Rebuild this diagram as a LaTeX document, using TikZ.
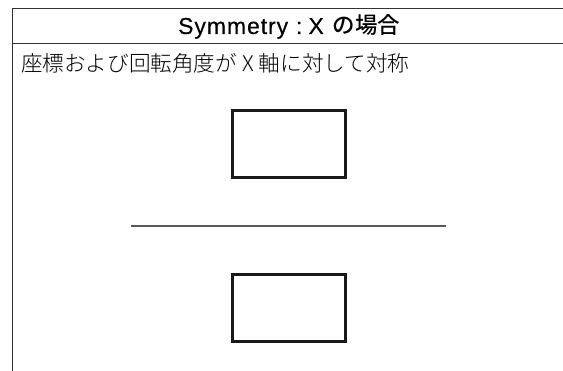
\documentclass[tikz,border=0pt]{standalone}
\usepackage{fontspec}
\setmainfont{Liberation Sans}
\newfontfamily\jpfont{Noto Sans CJK JP Light}
\newfontfamily\jpmed{Noto Sans CJK JP Medium}
\newfontfamily\latfont[LetterSpace=4,FakeBold=0.3]{Liberation Sans}
\begin{document}
\begin{tikzpicture}[x=1pt,y=-1pt,
  frame/.style={draw=black!80,line width=1.3pt},
  objbox/.style={draw=black!90,line width=3pt,minimum width=112.5pt,minimum height=67pt,inner sep=0pt},
  axisline/.style={draw=black!65,line width=1.6pt},
  headtxt/.style={inner sep=0pt,anchor=base west},
  bodytxt/.style={inner sep=0pt,anchor=base west,font=\jpfont\fontsize{21.6}{25}\selectfont}]
\useasboundingbox (0,0) rectangle (563,371);
\coordinate (tl) at (12.5,8.5);
\coordinate (tr) at (563,8.5);
\coordinate (bl) at (12.5,371);
\coordinate (sl) at (12.5,43.5);
\coordinate (sr) at (563,43.5);
\draw[frame] (tr) -- (tl) -- (bl);
\draw[frame] (sl) -- (sr);
\node[headtxt] (head) at (178,34) {\fontsize{23}{27}\selectfont\latfont Symmetry\hspace{8pt}:\hspace{6pt}X\hspace{9pt}{\jpmed\fontsize{22.5}{27}\selectfont の場合}};
\node[bodytxt] (body) at (21,72) {座標および回転角度が\hspace{5pt}X\hspace{5pt}軸に対して対称};
\node[objbox] (upper) at (288.8,143.9) {};
\node[objbox] (lower) at (288.8,307.9) {};
\coordinate (axl) at (131,225.8);
\coordinate (axr) at (446,225.8);
\draw[axisline] (axl) -- (axr);
\end{tikzpicture}
\end{document}
